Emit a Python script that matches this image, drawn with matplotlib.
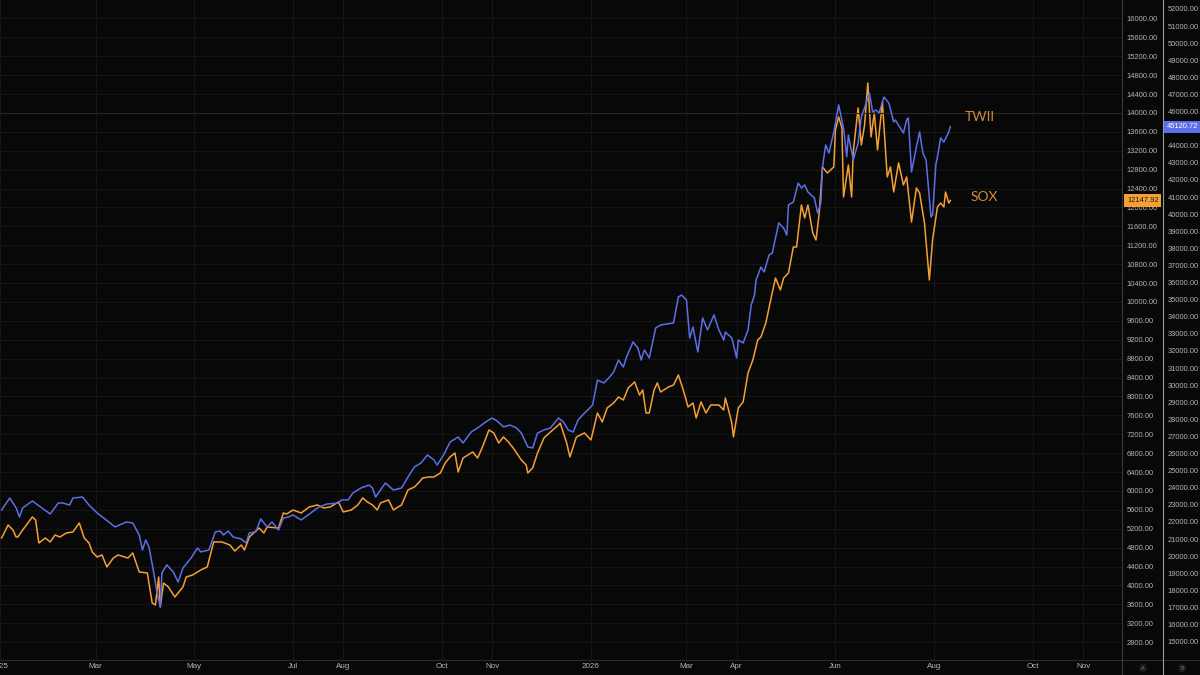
import matplotlib.pyplot as plt
import matplotlib.transforms as mtransforms
from matplotlib.lines import Line2D
import pandas as pd

# TWII (blue, right outer scale)
twii_dates = [
    "2025-01-02", "2025-01-07", "2025-01-11", "2025-01-13", "2025-01-15", "2025-01-21", "2025-01-26",
    "2025-02-01", "2025-02-06", "2025-02-09", "2025-02-13", "2025-02-15", "2025-02-21", "2025-02-25",
    "2025-03-02", "2025-03-10", "2025-03-13", "2025-03-20", "2025-03-24", "2025-03-28", "2025-03-30",
    "2025-04-01", "2025-04-03", "2025-04-06", "2025-04-08", "2025-04-10", "2025-04-11", "2025-04-14",
    "2025-04-18", "2025-04-21", "2025-04-24", "2025-04-29", "2025-05-03", "2025-05-05", "2025-05-10",
    "2025-05-14", "2025-05-17", "2025-05-19", "2025-05-22", "2025-05-25", "2025-05-30", "2025-06-02",
    "2025-06-04", "2025-06-08", "2025-06-11", "2025-06-15", "2025-06-18", "2025-06-22", "2025-06-25",
    "2025-06-28", "2025-07-01", "2025-07-06", "2025-07-12", "2025-07-17", "2025-07-22", "2025-07-29",
    "2025-07-31", "2025-08-04", "2025-08-07", "2025-08-12", "2025-08-17", "2025-08-19", "2025-08-21",
    "2025-08-24", "2025-08-27", "2025-09-01", "2025-09-06", "2025-09-10", "2025-09-14", "2025-09-18",
    "2025-09-22", "2025-09-26", "2025-09-28", "2025-10-02", "2025-10-06", "2025-10-11", "2025-10-14",
    "2025-10-19", "2025-10-23", "2025-10-28", "2025-11-01", "2025-11-04", "2025-11-08", "2025-11-12",
    "2025-11-16", "2025-11-19", "2025-11-23", "2025-11-26", "2025-11-29", "2025-12-03", "2025-12-07",
    "2025-12-12", "2025-12-15", "2025-12-18", "2025-12-21", "2025-12-24", "2025-12-28", "2025-12-30",
    "2026-01-02", "2026-01-05", "2026-01-09", "2026-01-12", "2026-01-15", "2026-01-18", "2026-01-21",
    "2026-01-23", "2026-01-27", "2026-01-30", "2026-02-01", "2026-02-03", "2026-02-06", "2026-02-10",
    "2026-02-13", "2026-02-21", "2026-02-24", "2026-02-26", "2026-03-01", "2026-03-03", "2026-03-05",
    "2026-03-08", "2026-03-11", "2026-03-14", "2026-03-18", "2026-03-21", "2026-03-24", "2026-03-25",
    "2026-03-29", "2026-04-01", "2026-04-02", "2026-04-05", "2026-04-08", "2026-04-10", "2026-04-12",
    "2026-04-13", "2026-04-16", "2026-04-18", "2026-04-21", "2026-04-23", "2026-04-27", "2026-04-30",
    "2026-05-02", "2026-05-03", "2026-05-06", "2026-05-09", "2026-05-11", "2026-05-13", "2026-05-15",
    "2026-05-19", "2026-05-21", "2026-05-23", "2026-05-24", "2026-05-26", "2026-05-28", "2026-05-31",
    "2026-06-03", "2026-06-06", "2026-06-08", "2026-06-09", "2026-06-12", "2026-06-15", "2026-06-17",
    "2026-06-20", "2026-06-22", "2026-06-24", "2026-06-26", "2026-06-28", "2026-07-01", "2026-07-04",
    "2026-07-07", "2026-07-08", "2026-07-13", "2026-07-15", "2026-07-16", "2026-07-18", "2026-07-21",
    "2026-07-23", "2026-07-25", "2026-07-27", "2026-07-30", "2026-07-31", "2026-08-02", "2026-08-03",
    "2026-08-05", "2026-08-07", "2026-08-10", "2026-08-11",
]
twii_values = [
    22700, 23400, 22820, 22290, 22820, 23230, 22880,
    22470, 23110, 23110, 22990, 23400, 23460, 22990,
    22530, 21940, 21710, 22000, 21940, 21240, 20360,
    20950, 20540, 19020, 17850, 17030, 19020, 19490,
    19080, 18490, 19310, 19890, 20480, 20250, 20360,
    21420, 21470, 21240, 21470, 21120, 21010, 20770,
    21360, 21420, 22180, 21710, 22000, 21530, 22230,
    22290, 22410, 22120, 22530, 22880, 23050, 23110,
    23290, 23290, 23700, 23990, 24160, 23990, 23460,
    23870, 24280, 23870, 23990, 24630, 25220, 25450,
    25920, 25630, 25330, 25920, 26680, 26970, 26620,
    27260, 27500, 27850, 28080, 27910, 27560, 27670,
    27500, 27200, 26390, 26330, 27200, 27380, 27500,
    28080, 27850, 27380, 27260, 27960, 28370, 28550,
    28840, 30300, 30130, 30420, 30770, 31470, 31060,
    31650, 32530, 32180, 31470, 32060, 31590, 33350,
    33520, 33640, 35160, 35270, 34980, 32760, 33400,
    31940, 33930, 33230, 34110, 33230, 32640, 33110,
    32760, 31590, 32640, 32470, 33230, 34690, 35270,
    36150, 36910, 36620, 37610, 37730, 39490, 39190,
    38780, 40540, 40710, 41820, 41530, 41710, 41300,
    40950, 40070, 40660, 42760, 44050, 43580, 44810,
    46390, 45040, 43350, 44630, 43170, 44160, 45680,
    46500, 47090, 45980, 46090, 45920, 46850, 46500,
    45390, 45510, 44750, 45510, 45630, 42470, 43930,
    44810, 43580, 43170, 39840, 39950, 42880, 43350,
    44460, 44220, 44810, 45120.72,
]

# SOX (orange, right inner scale)
sox_dates = [
    "2025-01-02", "2025-01-06", "2025-01-09", "2025-01-11", "2025-01-12", "2025-01-15", "2025-01-21",
    "2025-01-23", "2025-01-25", "2025-01-29", "2025-02-01", "2025-02-04", "2025-02-07", "2025-02-11",
    "2025-02-15", "2025-02-19", "2025-02-22", "2025-02-25", "2025-02-27", "2025-03-02", "2025-03-05",
    "2025-03-08", "2025-03-12", "2025-03-15", "2025-03-21", "2025-03-24", "2025-03-28", "2025-04-02",
    "2025-04-05", "2025-04-07", "2025-04-09", "2025-04-10", "2025-04-12", "2025-04-15", "2025-04-19",
    "2025-04-24", "2025-04-26", "2025-04-30", "2025-05-05", "2025-05-09", "2025-05-13", "2025-05-18",
    "2025-05-23", "2025-05-26", "2025-05-30", "2025-06-01", "2025-06-04", "2025-06-10", "2025-06-13",
    "2025-06-15", "2025-06-22", "2025-06-25", "2025-06-27", "2025-07-01", "2025-07-06", "2025-07-11",
    "2025-07-16", "2025-07-20", "2025-07-24", "2025-07-29", "2025-08-01", "2025-08-06", "2025-08-10",
    "2025-08-13", "2025-08-16", "2025-08-19", "2025-08-22", "2025-08-24", "2025-08-29", "2025-09-01",
    "2025-09-06", "2025-09-10", "2025-09-14", "2025-09-17", "2025-09-19", "2025-09-23", "2025-09-26",
    "2025-09-30", "2025-10-03", "2025-10-06", "2025-10-09", "2025-10-11", "2025-10-14", "2025-10-20",
    "2025-10-23", "2025-10-26", "2025-10-30", "2025-11-02", "2025-11-05", "2025-11-08", "2025-11-11",
    "2025-11-14", "2025-11-19", "2025-11-22", "2025-11-23", "2025-11-26", "2025-11-29", "2025-12-03",
    "2025-12-07", "2025-12-12", "2025-12-13", "2025-12-17", "2025-12-19", "2025-12-23", "2025-12-28",
    "2026-01-01", "2026-01-05", "2026-01-08", "2026-01-11", "2026-01-15", "2026-01-18", "2026-01-21",
    "2026-01-24", "2026-01-28", "2026-01-31", "2026-02-02", "2026-02-04", "2026-02-06", "2026-02-09",
    "2026-02-11", "2026-02-13", "2026-02-18", "2026-02-21", "2026-02-24", "2026-02-27", "2026-03-02",
    "2026-03-05", "2026-03-07", "2026-03-10", "2026-03-13", "2026-03-16", "2026-03-21", "2026-03-24",
    "2026-03-25", "2026-03-27", "2026-03-29", "2026-03-30", "2026-04-02", "2026-04-05", "2026-04-08",
    "2026-04-11", "2026-04-14", "2026-04-16", "2026-04-19", "2026-04-22", "2026-04-25", "2026-04-28",
    "2026-04-30", "2026-05-03", "2026-05-06", "2026-05-08", "2026-05-11", "2026-05-13", "2026-05-15",
    "2026-05-18", "2026-05-20", "2026-05-22", "2026-05-24", "2026-05-27", "2026-05-31", "2026-06-01",
    "2026-06-03", "2026-06-05", "2026-06-06", "2026-06-09", "2026-06-11", "2026-06-12", "2026-06-15",
    "2026-06-17", "2026-06-19", "2026-06-21", "2026-06-23", "2026-06-25", "2026-06-27", "2026-06-30",
    "2026-07-02", "2026-07-03", "2026-07-05", "2026-07-07", "2026-07-10", "2026-07-13", "2026-07-15",
    "2026-07-18", "2026-07-21", "2026-07-23", "2026-07-26", "2026-07-29", "2026-07-31", "2026-08-03",
    "2026-08-05", "2026-08-07", "2026-08-08", "2026-08-10", "2026-08-11",
]
sox_values = [
    5005, 5280, 5175, 5026, 5026, 5175, 5450,
    5386, 4899, 5005, 4921, 5069, 5026, 5111,
    5132, 5323, 5005, 4899, 4709, 4603, 4646,
    4392, 4582, 4646, 4582, 4688, 4286, 4265,
    3630, 3587, 4180, 3545, 4053, 3968, 3757,
    3968, 4180, 4222, 4328, 4392, 4921, 4921,
    4857, 4730, 4857, 4751, 5026, 5217, 5111,
    5238, 5217, 5534, 5513, 5598, 5534, 5661,
    5704, 5640, 5661, 5767, 5556, 5598, 5704,
    5852, 5767, 5704, 5598, 5746, 5810, 5598,
    5704, 6021, 6085, 6190, 6275, 6296, 6296,
    6381, 6593, 6720, 6804, 6402, 6698, 6825,
    6698, 6931, 7291, 7228, 7016, 7143, 7037,
    6910, 6656, 6550, 6381, 6487, 6804, 7122,
    7249, 7397, 7439, 7016, 6720, 7143, 7228,
    7079, 7651, 7460, 7757, 7862, 7989, 7926,
    8180, 8307, 8032, 8138, 7651, 7651, 8138,
    8286, 8095, 8201, 8243, 8455, 8138, 7778,
    7862, 7545, 7884, 7651, 7820, 7820, 7714,
    7968, 7714, 7439, 7143, 7757, 7884, 8497,
    8772, 9196, 9259, 9555, 10042, 10508, 10254,
    10508, 10614, 11164, 11164, 12053, 11778, 12053,
    11460, 11312, 11884, 12857, 12730, 12857, 13640,
    13915, 13683, 12222, 12899, 12222, 13175, 14106,
    13323, 13746, 14635, 13492, 14000, 13217, 14233,
    13153, 12645, 12857, 12328, 12942, 12476, 12645,
    11693, 12413, 12307, 11672, 10466, 11312, 12011,
    12095, 12011, 12328, 12095, 12147.92,
]

tick_dates = ["2025-01-01", "2025-03-01", "2025-05-01", "2025-07-01", "2025-08-01", "2025-10-01",
              "2025-11-01", "2026-01-01", "2026-03-01", "2026-04-01", "2026-06-01", "2026-08-01",
              "2026-10-01", "2026-11-01"]
tick_labels = ["2025", "Mar", "May", "Jul", "Aug", "Oct", "Nov", "2026", "Mar", "Apr", "Jun", "Aug",
               "Oct", "Nov"]
sox_ticks = list(range(2800, 16001, 400))
twii_ticks = list(range(15000, 52001, 1000))

BG = "#080808"
GRID = "#151515"
TXT = "#b2b5be"
BLUE = "#5d6fe6"
ORANGE = "#f5a033"

plt.rcParams["font.family"] = ["Liberation Sans", "DejaVu Sans"]

fig = plt.figure(figsize=(12, 6.75), dpi=100, facecolor=BG)
ax = fig.add_axes([0, 15 / 675, 1122 / 1200, 660 / 675], facecolor=BG)
axb = ax.twinx()

ax.plot(pd.to_datetime(sox_dates), sox_values, color=ORANGE, lw=1.1)
axb.plot(pd.to_datetime(twii_dates), twii_values, color=BLUE, lw=1.1)

ax.set_xlim(pd.Timestamp("2025-01-01"), pd.Timestamp("2026-11-25"))
ax.set_ylim(2423, 16391)
axb.set_ylim(13929, 52526)

# grid
ax.grid(True, color=GRID, lw=0.8)
ax.axhline(14000, color="#262626", lw=0.8)
ax.set_axisbelow(True)

# x axis
ax.set_xticks(pd.to_datetime(tick_dates))
ax.set_xticklabels(tick_labels)
ax.tick_params(axis="x", length=0, pad=2.5, labelsize=5.8, colors=TXT)

# inner scale (SOX)
ax.yaxis.tick_right()
ax.set_yticks(sox_ticks)
ax.set_yticklabels([f"{v:.2f}" for v in sox_ticks])
ax.tick_params(axis="y", length=0, pad=3.5, labelsize=5.4, colors=TXT)

# outer scale (TWII)
axb.spines["right"].set_position(("outward", 41 * 0.72))
axb.set_yticks(twii_ticks)
axb.set_yticklabels([f"{v:.2f}" for v in twii_ticks])
axb.tick_params(axis="y", length=0, pad=3.2, labelsize=5.4, colors=TXT)

for s in ["top", "left"]:
    ax.spines[s].set_visible(False)
for s in ["top", "left", "bottom"]:
    axb.spines[s].set_visible(False)
ax.spines["bottom"].set_color("#2a2a2a")
ax.spines["right"].set_color("#3a3a3a")
axb.spines["right"].set_color("#9a9a9a")

# extend separators to the figure bottom
fig.add_artist(Line2D([1122 / 1200, 1], [15 / 675, 15 / 675], color="#2a2a2a", lw=0.8,
                      transform=fig.transFigure))
fig.add_artist(Line2D([1122 / 1200] * 2, [0, 15 / 675], color="#3a3a3a", lw=0.8,
                      transform=fig.transFigure))
fig.add_artist(Line2D([1163 / 1200] * 2, [0, 15 / 675], color="#9a9a9a", lw=0.8,
                      transform=fig.transFigure))

# series labels
ax.text(0.873, 0.823, "TWII", transform=ax.transAxes, color="#d08a3c", fontsize=10,
        ha="center", va="center", family=["Lato", "DejaVu Sans"])
ax.text(0.877, 0.7015, "SOX", transform=ax.transAxes, color="#d08a3c", fontsize=10,
        ha="center", va="center", family=["Lato", "DejaVu Sans"])

# last value tags
tr_a = mtransforms.blended_transform_factory(ax.transAxes, ax.transData)
ax.text(1 + 5 / 1122, sox_values[-1], f"{sox_values[-1]:.2f}", transform=tr_a, ha="left",
        va="center", fontsize=5.4, color="#1a1a1a", zorder=10,
        bbox=dict(boxstyle="square,pad=0.35", fc=ORANGE, ec="none"))
tr_b = mtransforms.blended_transform_factory(axb.transAxes, axb.transData)
axb.text(1 + 45 / 1122, twii_values[-1], f"{twii_values[-1]:.2f}", transform=tr_b, ha="left",
         va="center", fontsize=5.4, color="white", zorder=10,
         bbox=dict(boxstyle="square,pad=0.35", fc=BLUE, ec="none"))

# scale badges
for x, t in [(1143, "A"), (1182, "B")]:
    fig.text(x / 1200, 7 / 675, t, ha="center", va="center", fontsize=4, color="#777777",
             bbox=dict(boxstyle="circle,pad=0.3", fc="#1a1a1a", ec="none"))

fig.savefig("out.png", dpi=100, facecolor=BG)
